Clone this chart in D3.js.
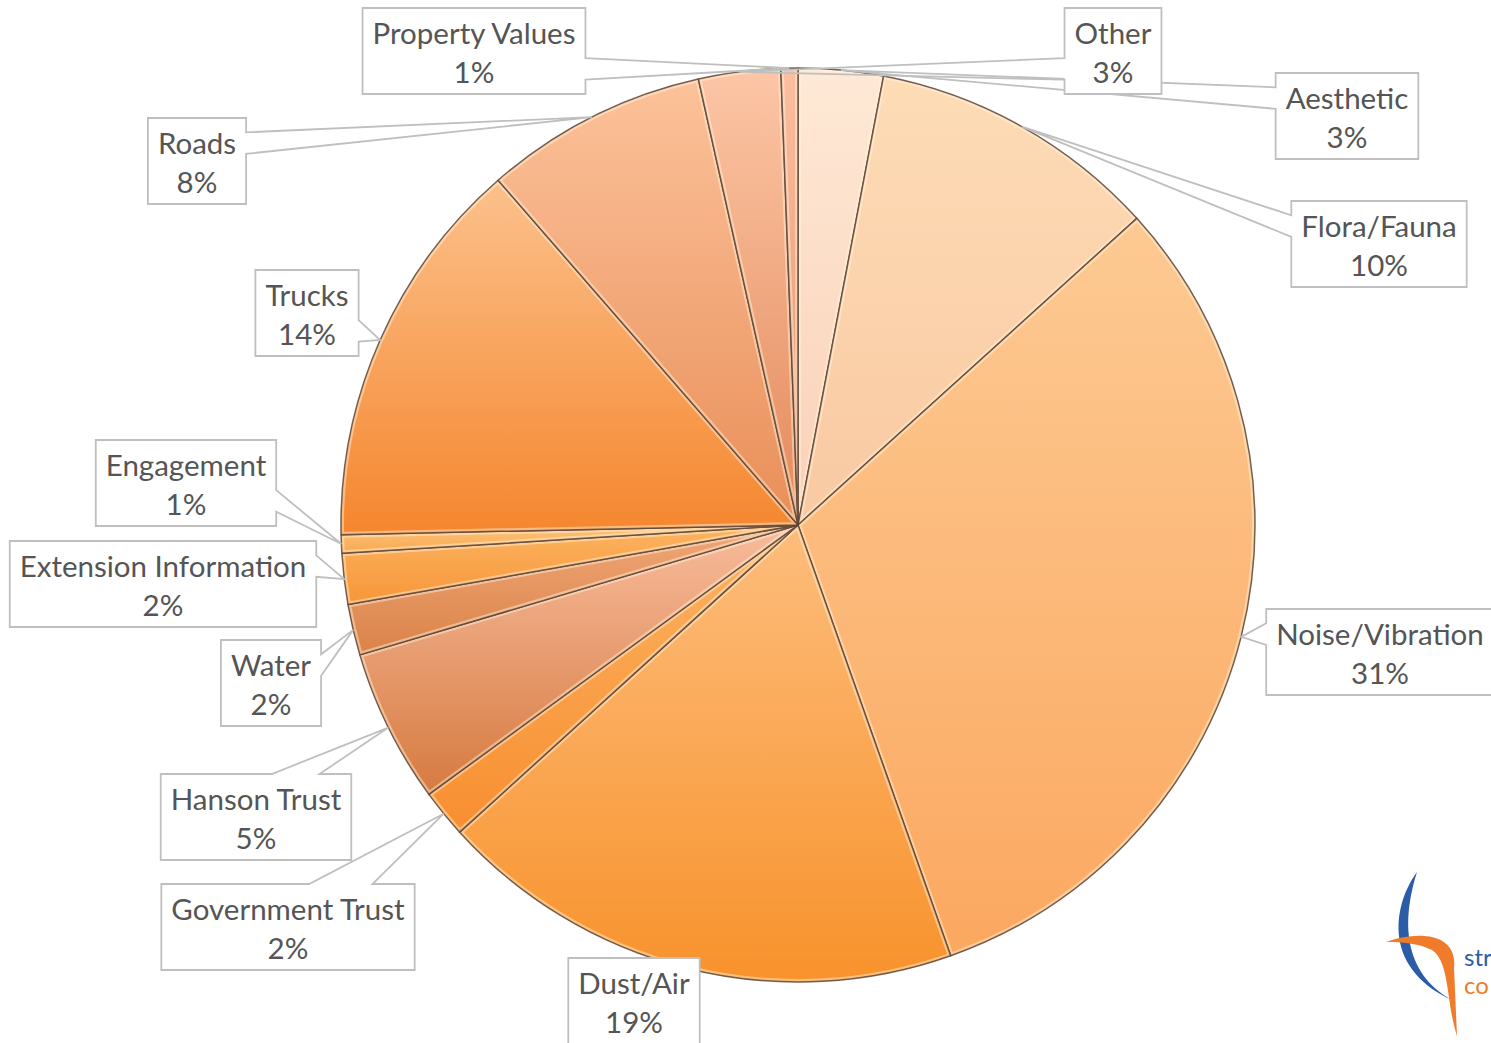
<!DOCTYPE html>
<html>
<head>
<meta charset="utf-8">
<script src="https://cdn.jsdelivr.net/npm/d3@7"></script>
<style>
  html, body { margin: 0; padding: 0; background: #fff; overflow: hidden; }
  svg { display: block; }
</style>
</head>
<body>
<div id="svgcontainer"></div>
<script>
// categories, clockwise from 12 o'clock
let categories = ["Aesthetic", "Flora/Fauna", "Noise/Vibration", "Dust/Air", "Government Trust",
    "Hanson Trust", "Water", "Extension Information", "Engagement", "Trucks", "Roads", "Other", "Property Values"];
// share of responses (%)
let shares = [3.0, 10.3, 31.3, 18.7, 1.7, 5.45, 1.8, 1.8, 0.65, 13.95, 7.9, 2.9, 0.6];

// slice shading (top -> bottom of each slice)
let colorsTop = ["#fee9d6", "#fddcb6", "#fdca93", "#fdbd7c", "#fcb464", "#f8bc9c", "#f0a878",
    "#fcb460", "#fcc47a", "#fcc18c", "#fcc29a", "#fcc6a6", "#fbbfa0"];
let colorsBottom = ["#fad0b6", "#f9c9a2", "#fba860", "#f8922c", "#f88e30", "#d67a40", "#da8248",
    "#f7963a", "#f9a850", "#f5862e", "#e98e58", "#e4895a", "#e69068"];

// label box placement (centre x, top y)
let labelPos = [[1347, 73], [1379, 201], [1380, 609], [634, 958], [288, 884], [256, 774], [271, 640],
    [163, 541], [186, 440], [307, 270], [197, 118], [1113, 8], [474, 8]];

let width = 1491;
let height = 1043;
let cx = 798, cy = 525, radius = 457;
let boxH = 86, pad = 10;

let svg = d3.select("#svgcontainer")
    .append("svg")
    .attr("width", width)
    .attr("height", height);

let defs = svg.append("defs");

let pie = d3.pie().sort(null).value(d => d.value);
let arcs = pie(categories.map((c, i) => ({ name: c, value: shares[i], idx: i })));
let arc = d3.arc().innerRadius(0).outerRadius(radius);
let total = d3.sum(shares);

arcs.forEach((d, i) => {
    let g = defs.append("linearGradient")
        .attr("id", "grad" + i)
        .attr("x1", 0).attr("y1", 0).attr("x2", 0).attr("y2", 1);
    g.append("stop").attr("offset", "0%").attr("stop-color", colorsTop[i]);
    g.append("stop").attr("offset", "100%").attr("stop-color", colorsBottom[i]);
    defs.append("clipPath").attr("id", "clip" + i)
        .append("path").attr("d", arc(d));
});

let chart = svg.append("g")
    .attr("transform", "translate(" + cx + "," + cy + ")");

let slices = chart.selectAll("g.slice")
    .data(arcs)
    .enter()
    .append("g")
    .attr("class", "slice");

slices.append("path")
    .attr("d", arc)
    .style("fill", (d, i) => "url(#grad" + i + ")");

// soft bevel highlight inside each slice edge
slices.append("path")
    .attr("d", arc)
    .attr("clip-path", (d, i) => "url(#clip" + i + ")")
    .style("fill", "none")
    .style("stroke", "rgba(255,246,225,0.45)")
    .style("stroke-width", 6);

slices.append("path")
    .attr("d", arc)
    .style("fill", "none")
    .style("stroke", "#5e4434")
    .style("stroke-opacity", 0.85)
    .style("stroke-width", 1.5)
    .style("stroke-linejoin", "round");

// callout labels
function callout(x, y, w, h, tx, ty) {
    let hc = x + w / 2, vc = y + h / 2;
    let dxPos = tx - hc, dyPos = ty - vc;
    if (tx >= x && tx <= x + w && ty >= y && ty <= y + h)
        return "M" + x + "," + y + "H" + (x + w) + "V" + (y + h) + "H" + x + "Z";
    let dq = dxPos * h / w;
    let dz = Math.abs(dyPos) - Math.abs(dq);
    let x1 = x + w * (dxPos > 0 ? 7 : 2) / 12, x2 = x + w * (dxPos > 0 ? 10 : 5) / 12;
    let y1 = y + h * (dyPos > 0 ? 7 : 2) / 12, y2 = y + h * (dyPos > 0 ? 10 : 5) / 12;
    let p = "M" + x + "," + y;
    if (dz > 0 && dyPos < 0) p += "L" + x1 + "," + y + "L" + tx + "," + ty + "L" + x2 + "," + y;
    p += "L" + (x + w) + "," + y;
    if (dz <= 0 && dxPos > 0) p += "L" + (x + w) + "," + y1 + "L" + tx + "," + ty + "L" + (x + w) + "," + y2;
    p += "L" + (x + w) + "," + (y + h);
    if (dz > 0 && dyPos > 0) p += "L" + x2 + "," + (y + h) + "L" + tx + "," + ty + "L" + x1 + "," + (y + h);
    p += "L" + x + "," + (y + h);
    if (dz <= 0 && dxPos < 0) p += "L" + x + "," + y2 + "L" + tx + "," + ty + "L" + x + "," + y1;
    return p + "Z";
}

let labels = svg.append("g").attr("class", "labels");

arcs.forEach((d, i) => {
    let lg = labels.append("g");
    let pos = labelPos[i];
    let t1 = lg.append("text")
        .attr("x", pos[0]).attr("y", pos[1] + 36)
        .text(d.data.name);
    let t2 = lg.append("text")
        .attr("x", pos[0]).attr("y", pos[1] + 75)
        .text(Math.round(d.data.value / total * 100) + "%");
    lg.selectAll("text")
        .attr("text-anchor", "middle")
        .style("font-family", "Lato, 'Open Sans', sans-serif")
        .style("font-size", "29.5px")
        .style("fill", "#555555");
    let tw = Math.max(t1.node().getComputedTextLength(), t2.node().getComputedTextLength());
    let w = tw + pad * 2;
    let bx = pos[0] - w / 2, by = pos[1];
    let mid = (d.startAngle + d.endAngle) / 2;
    let tx = cx + radius * Math.sin(mid), ty = cy - radius * Math.cos(mid);
    lg.insert("rect", "text")
        .attr("x", bx).attr("y", by).attr("width", w).attr("height", boxH)
        .style("fill", "#fff");
    lg.insert("path", "text")
        .attr("d", callout(bx, by, w, boxH, tx, ty))
        .style("fill", "none")
        .style("stroke", "#bfbfbf")
        .style("stroke-width", 1.8)
        .style("stroke-linejoin", "miter");
});

// partial logo in the bottom-right corner
let logo = svg.append("g").attr("class", "logo");
logo.append("path")
    .attr("d", "M1417,872 C1396,900 1378,966 1452,1000 C1402,972 1402,920 1417,872 Z")
    .style("fill", "#2b5ca8");
logo.append("path")
    .attr("d", "M1386,942 C1420,930 1458,934 1454,968 L1457,1036 C1446,1002 1450,962 1432,950 C1418,943 1402,942 1386,942 Z")
    .style("fill", "#f07b2a");
logo.append("text").attr("x", 1464).attr("y", 966).text("str")
    .style("font-family", "Lato, sans-serif").style("font-size", "24px").style("fill", "#2b5ca8");
logo.append("text").attr("x", 1464).attr("y", 994).text("co")
    .style("font-family", "Lato, sans-serif").style("font-size", "24px").style("fill", "#f07b2a");
</script>
</body>
</html>
